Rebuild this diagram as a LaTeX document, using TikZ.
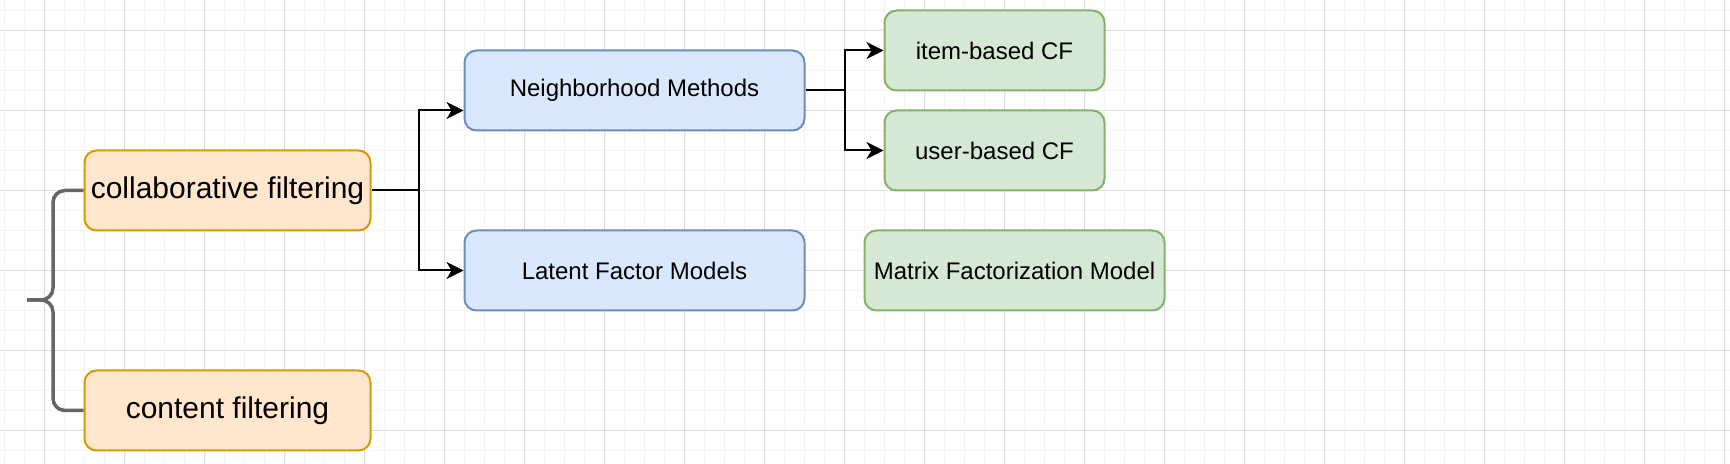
\documentclass[tikz,border=0pt]{standalone}
\usepackage{fontspec}
\setmainfont{Liberation Sans}
\usetikzlibrary{arrows.meta}
\definecolor{gridminor}{RGB}{243,243,243}
\definecolor{gridmajor}{RGB}{220,220,220}
\definecolor{ofill}{HTML}{FFE6CC}
\definecolor{ostroke}{HTML}{D79B00}
\definecolor{bfill}{HTML}{DAE8FC}
\definecolor{bstroke}{HTML}{6C8EBF}
\definecolor{gfill}{HTML}{D5E8D4}
\definecolor{gstroke}{HTML}{82B366}
\definecolor{bracegray}{HTML}{666666}
\tikzset{
  box/.style={rectangle, rounded corners=6pt, line width=1pt, inner sep=0pt,
    minimum height=40pt, align=center, font=\fontsize{12}{14}\selectfont},
  orangebox/.style={box, fill=ofill, draw=ostroke, minimum width=143pt, font=\fontsize{15}{18}\selectfont},
  bluebox/.style={box, fill=bfill, draw=bstroke, minimum width=170pt},
  greenbox/.style={box, fill=gfill, draw=gstroke},
  arr/.style={line width=1pt, black, -{Stealth[length=8.5pt,width=8.5pt,inset=2.5pt]}},
  bracestyle/.style={line width=1.75pt, bracegray, rounded corners=6pt},
}
\begin{document}
\begin{tikzpicture}[x=0.5pt,y=-0.5pt]
\useasboundingbox (0,0) rectangle (1730,464);
\fill[white] (0,0) rectangle (1730,464);
% grid
\foreach \x in {4.3,24.3,...,1730} \draw[gridminor, line width=0.5pt] (\x,0) -- (\x,464);
\foreach \y in {10.3,30.3,...,464} \draw[gridminor, line width=0.5pt] (0,\y) -- (1730,\y);
\foreach \x in {44.3,124.3,...,1730} \draw[gridmajor, line width=0.5pt] (\x,0) -- (\x,464);
\foreach \y in {30.3,110.3,...,464} \draw[gridmajor, line width=0.5pt] (0,\y) -- (1730,\y);

% nodes
\node[orangebox] (cf) at (227.5,190.5) {collaborative filtering};
\node[orangebox] (ct) at (227.5,410.5) {content filtering};
\node[bluebox] (nm) at (634.5,90.5) {Neighborhood Methods};
\node[bluebox] (lf) at (634.5,270.5) {Latent Factor Models};
\node[greenbox, minimum width=110pt] (ib) at (994.5,50.5) {item-based CF};
\node[greenbox, minimum width=110pt] (ub) at (994.5,150.5) {user-based CF};
\node[greenbox, minimum width=150pt] (mf) at (1014.5,270.5) {Matrix Factorization Model};

% brace
\coordinate (btip) at (27,300);
\draw[bracestyle] (cf.west) -| (53,300) -- (btip);
\draw[bracestyle] (ct.west) -| (53,300) -- (btip);

% connectors
\coordinate (j1) at (419,190.5);
\coordinate (j2) at (845,90.5);
\draw[line width=1pt] (cf.east) -- (j1);
\draw[arr] (j1) |- ([yshift=-10pt]nm.west);
\draw[arr] (j1) |- (lf.west);
\draw[line width=1pt] (nm.east) -- (j2);
\draw[arr] (j2) |- (ib.west);
\draw[arr] (j2) |- (ub.west);
\end{tikzpicture}
\end{document}
